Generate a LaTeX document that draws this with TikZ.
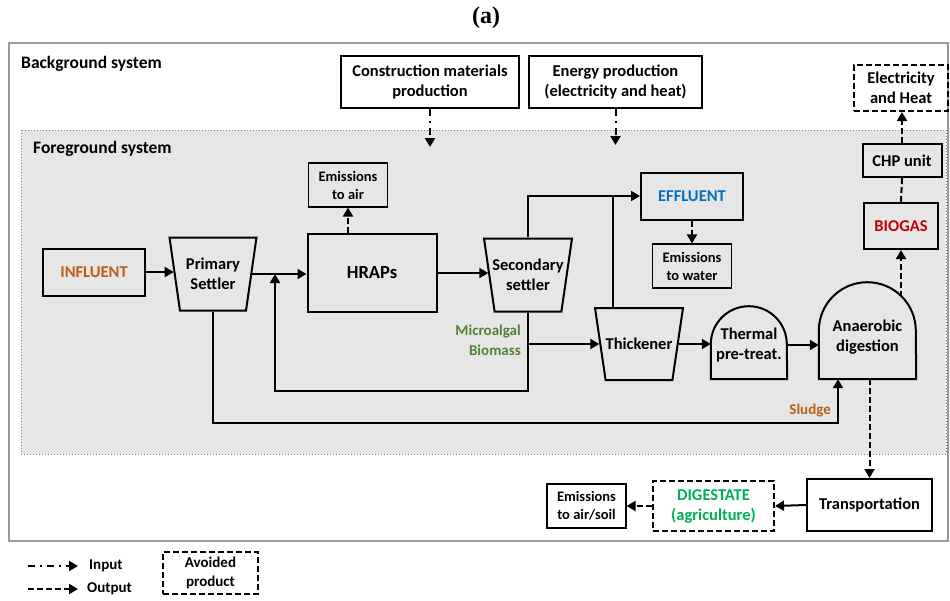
\documentclass[tikz,border=0pt]{standalone}
\usepackage{fontspec}
\setmainfont{Carlito}
\newfontfamily\titlefont{Liberation Serif}
\usetikzlibrary{arrows.meta,shapes.geometric,calc}

\definecolor{fggray}{HTML}{E6E6E6}
\definecolor{inflcol}{HTML}{C55A11}
\definecolor{efflcol}{HTML}{0070C0}
\definecolor{biogcol}{HTML}{C00000}
\definecolor{digcol}{HTML}{00B050}
\definecolor{algcol}{HTML}{548235}
\definecolor{sludgecol}{HTML}{B3620F}

\tikzset{
  unitbox/.style={draw, line width=2pt, align=center, inner sep=1pt,
    font=\fontsize{16.5}{20}\selectfont\bfseries},
  emisbox/.style={draw, line width=1.1pt, align=center, inner sep=1pt,
    minimum width=79pt, minimum height=44pt,
    font=\fontsize{14.5}{18}\selectfont\bfseries},
  avoidbox/.style={unitbox, dash pattern=on 6pt off 3pt},
  setlabel/.style={align=center, inner sep=0pt,
    font=\fontsize{16.5}{20}\selectfont\bfseries},
  settler/.style={trapezium, trapezium left angle=81, trapezium right angle=81,
    shape border rotate=180, trapezium stretches=true, draw, line width=2pt,
    minimum height=73pt, inner sep=4pt},
  domebox/.style={align=center, inner sep=0pt,
    font=\fontsize{16.5}{20}\selectfont\bfseries},
  unitline/.style={line width=2pt},
  sysname/.style={inner sep=0pt, font=\fontsize{17.5}{20}\selectfont\bfseries},
  flowlabel/.style={inner sep=0pt, font=\fontsize{15}{20}\selectfont\bfseries},
  pipe/.style={line width=2pt},
  flow/.style={line width=2pt, -{Triangle[length=9pt,width=10pt]}},
  outflow/.style={flow, dash pattern=on 6pt off 3pt},
  outline/.style={line width=2pt, dash pattern=on 6pt off 3pt},
  inflow/.style={flow, dash pattern=on 7pt off 5pt on 2pt off 5pt}
}

\begin{document}
\begin{tikzpicture}[x=1pt,y=1pt]
  \useasboundingbox (0,0) rectangle (950,-600);

  % system frames
  \draw[gray!80, line width=1.5pt] (9,-43) rectangle (948,-541);
  \draw[gray, dotted, line width=1pt, fill=fggray] (21,-130) rectangle (946,-454);

  \node[font=\titlefont\fontsize{24}{24}\selectfont\bfseries] (ttl) at (486,-18) {(a)};
  \node[sysname, anchor=west] (bgs) at (21,-64) {Background system};
  \node[sysname, anchor=west] (fgs) at (33,-149) {Foreground system};

  % background processes
  \node[unitbox, minimum width=178pt, minimum height=52pt] (cmp) at (430,-82) {Construction materials\\production};
  \node[unitbox, minimum width=173pt, minimum height=52pt] (enp) at (615.5,-82) {Energy production\\(electricity and heat)};
  \node[avoidbox, minimum width=94pt, minimum height=46pt] (elh) at (901,-88) {Electricity\\and Heat};
  \coordinate (cmpin) at (430,-147);
  \coordinate (enpin) at (615.5,-145);

  % water line
  \node[unitbox, minimum width=102pt, minimum height=47pt, text=inflcol] (inf) at (94,-272) {INFLUENT};
  \node[settler, minimum width=87pt, label={[setlabel]center:Primary\\Settler}] (psett) at (213,-274) {};
  \node[unitbox, minimum width=129pt, minimum height=78pt, font=\fontsize{18.5}{22}\selectfont\bfseries] (hrap) at (372,-273) {HRAPs};
  \node[emisbox] (emair) at (348,-185) {Emissions\\to air};
  \node[settler, minimum width=88pt, label={[setlabel]center:Secondary\\settler}] (ssett) at (528,-275) {};
  \node[unitbox, minimum width=102pt, minimum height=47pt, text=efflcol] (effl) at (692,-196) {EFFLUENT};
  \node[emisbox] (emwat) at (692,-266) {Emissions\\to water};

  % sludge line
  \node[settler, minimum width=88pt, minimum height=72pt, label={[setlabel]center:Thickener}] (thick) at (639,-344) {};
  \node[domebox, minimum width=76pt, minimum height=68pt] (ptreat) at (749,-345) {Thermal\\pre-treat.};
  \node[domebox, minimum width=97pt, minimum height=84pt] (anad) at (867.5,-337) {Anaerobic\\digestion};
  \draw[unitline] (ptreat.south west) -- ++(0,35) arc[start angle=180, end angle=0, radius=38] -- (ptreat.south east) -- cycle;
  \draw[unitline] (anad.south west) -- ++(0,48.5) arc[start angle=180, end angle=0, radius=48.5] -- (anad.south east) -- cycle;
  \node[unitbox, minimum width=74pt, minimum height=46pt, text=biogcol] (biog) at (901,-226) {BIOGAS};
  \node[unitbox, minimum width=79pt, minimum height=33pt] (chp) at (902,-160.5) {CHP unit};
  \node[unitbox, minimum width=125pt, minimum height=52pt] (trans) at (869.5,-505) {Transportation};
  \node[avoidbox, minimum width=121pt, minimum height=50pt, text=digcol] (dige) at (713.5,-506) {DIGESTATE\\(agriculture)};
  \node[emisbox] (emsoil) at (586.5,-506) {Emissions\\to air/soil};

  \node[flowlabel, text=algcol, anchor=east, align=right] (malg) at (521,-340) {Microalgal\\Biomass};
  \node[flowlabel, text=sludgecol, anchor=east] (sldg) at (831,-411) {Sludge};

  \coordinate (recyc) at (275,-391);
  \coordinate (sludg) at (838,-423);
  \coordinate (thsup) at (613,-196);
  \coordinate (adtop) at (901,-297);

  % connectors
  \draw[flow] (inf.east) -- (inf.east -| psett.west);
  \draw[flow] (psett.east) -- (psett.east -| hrap.west);
  \draw[flow] (hrap.east) -- (hrap.east -| ssett.west);
  \draw[flow, shorten >=1pt] (ssett.south) |- (recyc) -- (recyc |- hrap.west);
  \draw[flow] (ssett.south |- thick.west) -- (thick.west);
  \draw[flow] (psett.south) |- (sludg) -- (sludg |- anad.south);
  \draw[flow] (ssett.north) |- (effl.west);
  \draw[pipe] (thsup) -- (thsup |- thick.north);
  \draw[outflow] (effl.south) -- (emwat.north);
  \draw[outflow] (emair.south |- hrap.north) -- (emair.south);
  \draw[inflow] (cmp.south) -- (cmpin);
  \draw[inflow] (enp.south) -- (enpin);
  \draw[flow] (thick.east) -- (thick.east -| ptreat.west);
  \draw[flow] (ptreat.east) -- (ptreat.east -| anad.west);
  \draw[outflow] (adtop) -- (biog.south);
  \draw[outline] (biog.north) -- (chp.south);
  \draw[outflow] (chp.north) -- (chp.north |- elh.south);
  \draw[outflow] (trans.north |- anad.south) -- (trans.north);
  \draw[flow] (trans.west) -- (dige.east);
  \draw[outflow] (dige.west) -- (emsoil.east);

  % legend
  \coordinate (lgi0) at (28,-566);
  \coordinate (lgi1) at (78,-566);
  \coordinate (lgo0) at (28,-589);
  \coordinate (lgo1) at (78,-589);
  \draw[inflow] (lgi0) -- (lgi1);
  \draw[outflow] (lgo0) -- (lgo1);
  \node[flowlabel, anchor=west] (lgin) at (89,-566) {Input};
  \node[flowlabel, anchor=west] (lgout) at (87,-589) {Output};
  \node[avoidbox, minimum width=95pt, minimum height=42pt, font=\fontsize{15}{19}\selectfont\bfseries] (lgav) at (210.5,-573) {Avoided\\product};
\end{tikzpicture}
\end{document}
